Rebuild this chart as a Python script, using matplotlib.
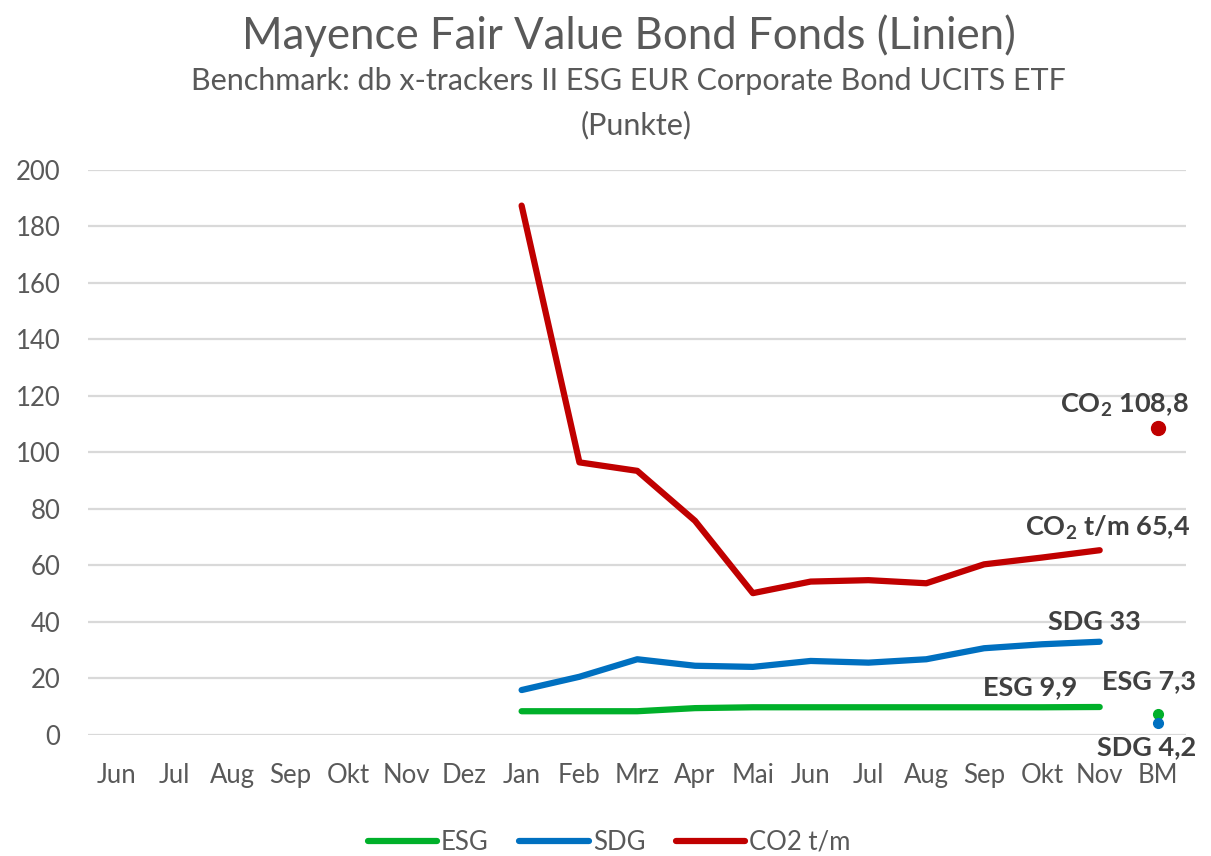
import numpy as np
import matplotlib
matplotlib.use("Agg")
import matplotlib.pyplot as plt

plt.rcParams['font.family'] = ['Lato', 'DejaVu Sans']
plt.rcParams['mathtext.fontset'] = 'custom'
plt.rcParams['mathtext.rm'] = 'Lato:bold'
plt.rcParams['mathtext.bf'] = 'Lato:bold'

# data
monate = ["Jun", "Jul", "Aug", "Sep", "Okt", "Nov", "Dez", "Jan", "Feb", "Mrz",
          "Apr", "Mai", "Jun", "Jul", "Aug", "Sep", "Okt", "Nov", "BM"]
esg = [None]*7 + [8.4, 8.4, 8.4, 9.5, 9.8, 9.8, 9.8, 9.8, 9.8, 9.8, 9.9]
sdg = [None]*7 + [15.9, 20.6, 26.8, 24.5, 24.1, 26.2, 25.6, 26.8, 30.7, 32.1, 33.0]
co2 = [None]*7 + [187.4, 96.5, 93.5, 75.8, 50.2, 54.3, 54.8, 53.7, 60.4, 62.8, 65.4]
bm_esg = 7.3
bm_sdg = 4.2
bm_co2 = 108.8

gruen = "#00B02A"
blau = "#0070C0"
rot = "#C00000"
grau = "#595959"
dunkel = "#404040"

fig = plt.figure(figsize=(12.11, 8.56), dpi=100)
ax = fig.add_axes([0.0727, 0.1414, 0.907, 0.66])

x = np.arange(len(monate))
xs = x[:len(esg)]
def arr(v):
    return np.array([np.nan if a is None else a for a in v], dtype=float)

ax.plot(xs, arr(esg), color=gruen, lw=4.5, solid_capstyle='round', label="ESG")
ax.plot(xs, arr(sdg), color=blau, lw=4.5, solid_capstyle='round', label="SDG")
ax.plot(xs, arr(co2), color=rot, lw=4.5, solid_capstyle='round', label="CO2 t/m")

bm = len(monate) - 1
ax.plot(bm, bm_co2, 'o', color=rot, ms=10)
ax.plot(bm, bm_esg, 'o', color=gruen, ms=7)
ax.plot(bm, bm_sdg, 'o', color=blau, ms=7)

# data labels
lab = dict(fontsize=19.5, fontweight='bold', color=dunkel, textcoords='offset points',
           ha='center', va='center')
nov = len(esg) - 1
ax.annotate(r"CO$_2$ 108,8", (bm, bm_co2), xytext=(-24, 16), **lab)
ax.annotate(r"CO$_2$ t/m 65,4", (nov, co2[-1]), xytext=(6, 16), **lab)
ax.annotate("SDG 33", (nov, sdg[-1]), xytext=(-4, 14), **lab)
ax.annotate("ESG 9,9", (nov, esg[-1]), xytext=(-50, 14), **lab)
ax.annotate("ESG 7,3", (bm, bm_esg), xytext=(-6, 24), **lab)
ax.annotate("SDG 4,2", (bm, bm_sdg), xytext=(-8, -17), **lab)

ax.set_xlim(-0.5, len(monate) - 0.5)
ax.set_ylim(0, 200)
ax.set_yticks(np.arange(0, 201, 20))
ax.set_xticks(x)
ax.set_xticklabels(monate)
ax.tick_params(axis='both', length=0, labelsize=18.5, colors=grau)
ax.tick_params(axis='x', pad=20)
ax.tick_params(axis='y', pad=20)
ax.grid(axis='y', color="#D9D9D9", lw=1.6)
ax.set_axisbelow(True)
for s in ax.spines.values():
    s.set_visible(False)

fig.text(0.519, 0.958, "Mayence Fair Value Bond Fonds (Linien)", ha='center', va='center',
         fontsize=31.5, color=grau)
fig.text(0.519, 0.905, "Benchmark: db x-trackers II ESG EUR Corporate Bond UCITS ETF",
         ha='center', va='center', fontsize=22, color=grau)
fig.text(0.525, 0.854, "(Punkte)", ha='center', va='center', fontsize=22, color=grau)

leg = fig.legend(loc='center', bbox_to_anchor=(0.503, 0.016), ncol=3, frameon=False,
                 fontsize=18.5, handlelength=2.7, handletextpad=0.15, columnspacing=1.2)
for t in leg.get_texts():
    t.set_color(grau)

fig.savefig("out.png", dpi=100)
